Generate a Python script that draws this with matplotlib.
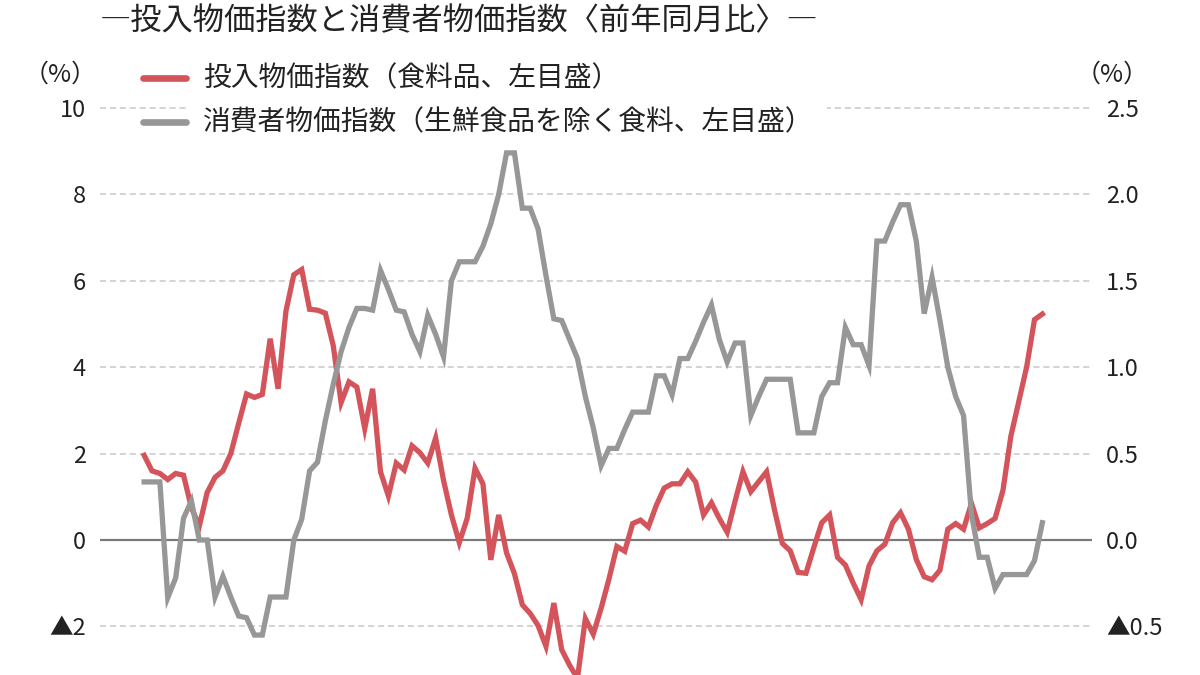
import matplotlib
matplotlib.use("Agg")
import matplotlib.pyplot as plt
from matplotlib.lines import Line2D
from matplotlib.patches import Rectangle

plt.rcParams['font.family'] = ['Noto Sans CJK JP', 'DejaVu Sans']

# 投入物価指数(食料品) 前年同月比, 左目盛
red = [1.96, 1.6, 1.54, 1.4, 1.54, 1.5, 0.75, 0.32, 1.1, 1.45,
       1.6, 2.0, 2.7, 3.38, 3.3, 3.37, 4.66, 3.5, 5.3, 6.14,
       6.26, 5.34, 5.32, 5.25, 4.5, 3.18, 3.66, 3.54, 2.58, 3.5,
       1.58, 1.02, 1.78, 1.62, 2.18, 2.02, 1.78, 2.36, 1.38, 0.58,
       -0.06, 0.5, 1.66, 1.3, -0.46, 0.58, -0.3, -0.78, -1.5, -1.7,
       -1.98, -2.46, -1.46, -2.54, -2.9, -3.2, -1.82, -2.18, -1.58, -0.9,
       -0.15, -0.26, 0.38, 0.46, 0.3, 0.8, 1.2, 1.3, 1.3, 1.58,
       1.34, 0.58, 0.86, 0.5, 0.18, 0.9, 1.58, 1.12, 1.35, 1.58,
       0.7, -0.08, -0.25, -0.75, -0.77, -0.17, 0.4, 0.58, -0.4, -0.58,
       -1.0, -1.38, -0.6, -0.25, -0.1, 0.4, 0.63, 0.25, -0.45, -0.85,
       -0.92, -0.7, 0.25, 0.38, 0.25, 0.85, 0.28, 0.38, 0.5, 1.15,
       2.4, 3.2, 4.0, 5.1, 5.23]

# 消費者物価指数(生鮮食品を除く食料) 前年同月比, 右目盛
gray = [0.336, 0.336, 0.336, -0.334, -0.22, 0.126, 0.226, 0.0, 0.0, -0.33,
        -0.21, -0.33, -0.44, -0.45, -0.55, -0.55, -0.33, -0.33, -0.33, 0.0,
        0.12, 0.4, 0.45, 0.69, 0.9, 1.09, 1.23, 1.34, 1.34, 1.33,
        1.56, 1.45, 1.33, 1.32, 1.19, 1.09, 1.3, 1.19, 1.06, 1.5,
        1.61, 1.61, 1.61, 1.7, 1.83, 2.0, 2.24, 2.24, 1.92, 1.92,
        1.8, 1.53, 1.28, 1.27, 1.16, 1.05, 0.83, 0.65, 0.43, 0.53,
        0.53, 0.64, 0.74, 0.74, 0.74, 0.95, 0.95, 0.84, 1.05, 1.05,
        1.15, 1.26, 1.36, 1.16, 1.03, 1.14, 1.14, 0.72, 0.83, 0.93,
        0.93, 0.93, 0.93, 0.62, 0.62, 0.62, 0.83, 0.91, 0.91, 1.23,
        1.13, 1.13, 1.01, 1.73, 1.73, 1.84, 1.94, 1.94, 1.73, 1.31,
        1.52, 1.27, 1.0, 0.83, 0.72, 0.15, -0.1, -0.1, -0.28, -0.2,
        -0.2, -0.2, -0.2, -0.12, 0.1]

months = list(range(len(red)))

left_ticks = [10, 8, 6, 4, 2, 0, -2]
left_labels = ['10', '8', '6', '4', '2', '0', '▲2']
right_ticks = [2.5, 2.0, 1.5, 1.0, 0.5, 0.0, -0.5]
right_labels = ['2.5', '2.0', '1.5', '1.0', '0.5', '0.0', '▲0.5']

title = '―投入物価指数と消費者物価指数〈前年同月比〉―'
label_red = '投入物価指数（食料品、左目盛）'
label_gray = '消費者物価指数（生鮮食品を除く食料、左目盛）'

RED = '#d4545b'
GRAY = '#979797'
TXT = '#222222'

fig = plt.figure(figsize=(12, 6.75), dpi=100)
fig.patch.set_facecolor('white')

W, H = 1200, 675
ax = fig.add_axes([100 / W, 0, 992 / W, (H - 95) / H])
ax.set_xlim(-5.6, 120.3)
ylo, yhi = -3.125, 10.3
ax.set_ylim(ylo, yhi)

for t in left_ticks:
    if t != 0:
        ax.axhline(t, color='#c8c8c8', lw=1.1, ls=(0, (4, 2.5)), zorder=1)
ax.axhline(0, color='#7a7a7a', lw=1.6, zorder=2)

ax.plot(months, red, color=RED, lw=3.8, solid_joinstyle='miter', zorder=3)

ax2 = ax.twinx()
ax2.set_ylim(ylo / 4, yhi / 4)
ax2.plot(months, gray, color=GRAY, lw=3.8, solid_joinstyle='miter', zorder=3)

ax.set_yticks(left_ticks)
ax.set_yticklabels(left_labels, fontsize=17, color=TXT)
ax2.set_yticks(right_ticks)
ax2.set_yticklabels(right_labels, fontsize=17, color=TXT)
ax.tick_params(axis='y', length=0, pad=10)
ax2.tick_params(axis='y', length=0, pad=10)
ax.set_xticks([])
for a in (ax, ax2):
    for s in a.spines.values():
        s.set_visible(False)
    a.patch.set_visible(False)

fig.text(60 / W, 1 - 75 / H, '（%）', fontsize=18, color=TXT, ha='center', va='center')
fig.text(1112 / W, 1 - 75 / H, '（%）', fontsize=18, color=TXT, ha='center', va='center')

fig.text(100 / W, 1 - 21 / H, title, fontsize=22.5, color=TXT, ha='left', va='center')

# 凡例
fig.add_artist(Rectangle((188 / W, 1 - 142 / H), (827 - 188) / W, 84 / H,
                         transform=fig.transFigure, facecolor='white',
                         edgecolor='none', zorder=1))
for yy, col, lab in [(78, RED, label_red), (122, GRAY, label_gray)]:
    fig.add_artist(Line2D([143 / W, 186 / W], [1 - yy / H, 1 - yy / H],
                          transform=fig.transFigure, color=col, lw=4.8,
                          solid_capstyle='round', zorder=2))
    fig.text(203 / W, 1 - yy / H, lab, fontsize=20, color=TXT,
             ha='left', va='center', zorder=3)

fig.savefig('out.png', dpi=100, facecolor='white')
